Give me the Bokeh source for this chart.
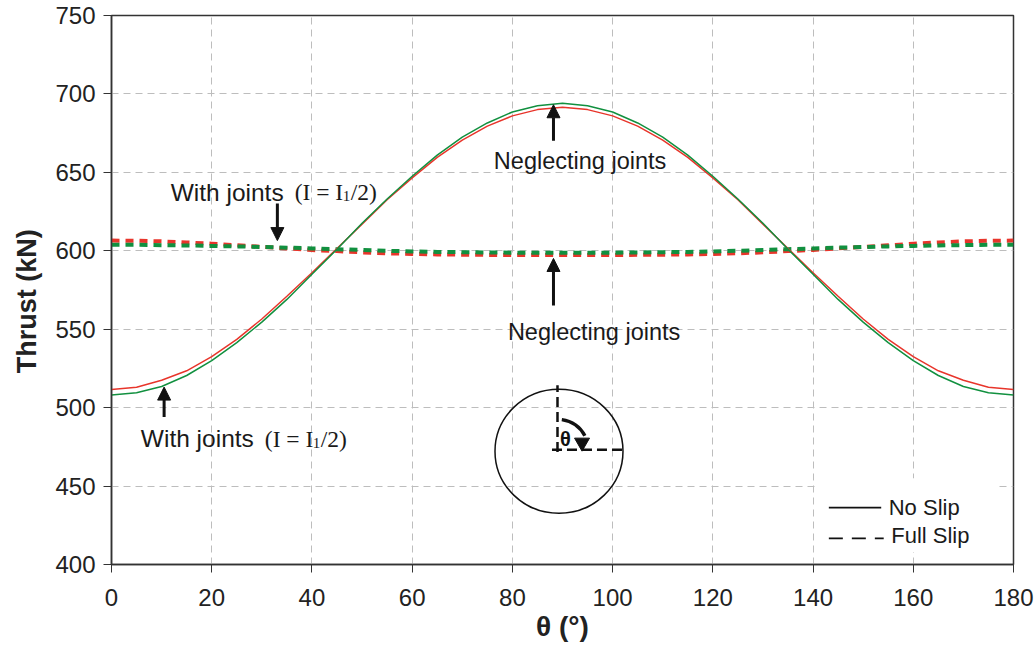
import math
from bokeh.plotting import figure
from bokeh.models import Range1d, FixedTicker, Arrow, NormalHead
from bokeh.core.properties import value
from bokeh.embed import file_html
from bokeh.resources import INLINE

# ---------------- data ----------------
theta = [0, 5, 10, 15, 20, 25, 30, 35, 40, 45, 50, 55, 60, 65, 70, 75, 80, 85, 90,
         95, 100, 105, 110, 115, 120, 125, 130, 135, 140, 145, 150, 155, 160, 165, 170, 175, 180]

# No slip (solid)
noslip_with_joints = [508, 509.5, 513.5, 520.5, 530, 541.5, 554.5, 569, 585, 601, 617.5, 633, 647.5, 661,
                      672.5, 681.5, 688.5, 692.5, 694,
                      692.5, 688.5, 681.5, 672.5, 661, 647.5, 633, 617.5, 601, 585, 569, 554.5, 541.5, 530,
                      520.5, 513.5, 509.5, 508]
noslip_neglecting = [511.5, 513, 517.5, 523.5, 532.5, 543.5, 556.5, 571, 586, 601.5, 617, 632.5, 646.5, 659.5,
                     670.5, 679.5, 686, 690, 691.5,
                     690, 686, 679.5, 670.5, 659.5, 646.5, 632.5, 617, 601.5, 586, 571, 556.5, 543.5, 532.5,
                     523.5, 517.5, 513, 511.5]

# Full slip (dashed)
fullslip_with_joints = [603.8, 603.8, 603.6, 603.4, 603.1, 602.8, 602.4, 602, 601.5, 601, 600.5, 600, 599.6,
                        599.3, 599.1, 598.9, 598.8, 598.8, 598.8,
                        598.8, 598.8, 598.9, 599.1, 599.3, 599.6, 600, 600.5, 601, 601.5, 602, 602.4, 602.8,
                        603.1, 603.4, 603.6, 603.8, 603.8]
fullslip_neglecting = [606.5, 606.4, 606, 605.3, 604.5, 603.5, 602.5, 601.5, 600.5, 599.8, 599, 598.4, 598,
                       597.7, 597.5, 597.4, 597.3, 597.3, 597.3,
                       597.3, 597.3, 597.4, 597.5, 597.7, 598, 598.4, 599, 599.8, 600.5, 601.5, 602.5, 603.5,
                       604.5, 605.3, 606, 606.4, 606.5]

x_ticks = [0, 20, 40, 60, 80, 100, 120, 140, 160, 180]
y_ticks = [400, 450, 500, 550, 600, 650, 700, 750]

RED = "#e8352b"
GREEN = "#11903f"
SANS = value("Liberation Sans")
SERIF = value("Liberation Serif")

p = figure(width=1036, height=646, x_range=Range1d(0, 180), y_range=Range1d(400, 750),
           output_backend="svg", toolbar_location=None,
           min_border_left=111, min_border_right=23, min_border_top=15, min_border_bottom=82)

p.background_fill_color = "white"
p.border_fill_color = "white"
p.outline_line_color = "#333333"
p.outline_line_width = 1.5

# grid
p.xgrid.ticker = FixedTicker(ticks=x_ticks)
p.ygrid.ticker = FixedTicker(ticks=y_ticks)
for g in (p.xgrid, p.ygrid):
    g.grid_line_color = "#bdbdbd"
    g.grid_line_dash = "7 5"
    g.grid_line_width = 1

# axes
p.xaxis.ticker = FixedTicker(ticks=x_ticks)
p.yaxis.ticker = FixedTicker(ticks=y_ticks)
for ax in (p.xaxis, p.yaxis):
    ax.axis_line_color = "#333333"
    ax.axis_line_width = 1.5
    ax.major_tick_line_color = "#333333"
    ax.major_tick_out = 8
    ax.major_tick_in = 0
    ax.minor_tick_out = 0
    ax.minor_tick_in = 0
    ax.major_label_text_font = "Liberation Sans"
    ax.major_label_text_font_size = "24px"
    ax.major_label_text_color = "#222222"
    ax.axis_label_text_font = "Liberation Sans"
    ax.axis_label_text_font_style = "bold"
    ax.axis_label_text_color = "#222222"
p.yaxis.major_label_standoff = 8
p.xaxis.major_label_standoff = 16
p.yaxis.axis_label = "Thrust (kN)\u00a0\u00a0\u00a0"
p.yaxis.axis_label_text_font_size = "27px"
p.yaxis.axis_label_standoff = 10
p.xaxis.axis_label = "θ (°)"
p.xaxis.axis_label_text_font_size = "28px"
p.xaxis.axis_label_standoff = 2

# curves
p.line(theta, fullslip_neglecting, line_color=RED, line_width=4, line_dash="8 6")
p.line(theta, fullslip_with_joints, line_color=GREEN, line_width=4, line_dash="8 6")
p.line(theta, noslip_neglecting, line_color=RED, line_width=1.5)
p.line(theta, noslip_with_joints, line_color=GREEN, line_width=1.5)

# annotation arrows
def arrow(x0, y0, x1, y1):
    p.add_layout(Arrow(end=NormalHead(size=13, fill_color="#111111", line_color="#111111", line_width=1),
                       x_start=x0, y_start=y0, x_end=x1, y_end=y1,
                       line_color="#111111", line_width=3))

arrow(88.2, 670.2, 88.2, 693.1)
arrow(33.1, 630.1, 33.1, 606.5)
arrow(88.2, 565.1, 88.2, 595.1)
arrow(10.5, 494.0, 10.5, 513.1)

# annotation texts
p.text(x=[76.3, 79.1], y=[657.3, 548.1],
       text=["Neglecting joints", "Neglecting joints"],
       text_font=SANS, text_font_size="23.5px", text_color="#1a1a1a", text_baseline="alphabetic")
p.text(x=[11.8, 5.85], y=[637.3, 480.2],
       text=["With joints", "With joints"],
       text_font=SANS, text_font_size="24.5px", text_color="#1a1a1a", text_baseline="alphabetic")
# serif formula parts (I = I1/2)
for (bx, by) in [(11.8, 637.3), (5.85, 480.2)]:
    p.text(x=[bx], y=[by], text=["(I = I"], x_offset=124, text_font=SERIF, text_font_size="23.5px",
           text_color="#1a1a1a", text_baseline="alphabetic")
    p.text(x=[bx], y=[by], text=["1"], x_offset=172, y_offset=4, text_font=SERIF, text_font_size="15px",
           text_color="#1a1a1a", text_baseline="alphabetic")
    p.text(x=[bx], y=[by], text=["/2)"], x_offset=180, text_font=SERIF, text_font_size="23.5px",
           text_color="#1a1a1a", text_baseline="alphabetic")

# inset circle diagram
p.ellipse(x=[89.3], y=[472.2], width=128, height=124, width_units="screen", height_units="screen",
          fill_color=None, line_color="#111111", line_width=1.5)
p.segment(x0=[89.0, 87.9], y0=[471.7, 473.2], x1=[89.0, 102.1], y1=[514.2, 473.2],
          line_color="#111111", line_width=2.5, line_dash="10 5")
p.arc(x=[89.0], y=[472.8], radius=31, radius_units="screen",
      start_angle=math.radians(28), end_angle=math.radians(82),
      line_color="#111111", line_width=3.5)
p.scatter(x=[93.9], y=[477.8], marker="triangle", size=15, angle=math.pi,
          fill_color="#111111", line_color="#111111")
p.text(x=[90.6], y=[479.8], text=["θ"], text_font=SANS, text_font_style="bold", text_font_size="20px",
       text_color="#111111", text_align="center", text_baseline="middle")

# legend (manual)
p.quad(left=[141.1], right=[176.4], bottom=[407.9], top=[455], fill_color="white", line_color=None)
p.segment(x0=[143.15], y0=[436.3], x1=[153.6], y1=[436.3], line_color="#111111", line_width=1.8)
p.segment(x0=[143.15], y0=[416.6], x1=[154.1], y1=[416.6], line_color="#111111", line_width=1.8,
          line_dash="14 9")
p.text(x=[155.1, 155.6], y=[436.3, 418.2], text=["No Slip", "Full Slip"], text_font=SANS,
       text_font_size="22px", text_color="#1a1a1a", text_baseline="alphabetic")

open("out.html", "w").write(file_html(p, INLINE))
